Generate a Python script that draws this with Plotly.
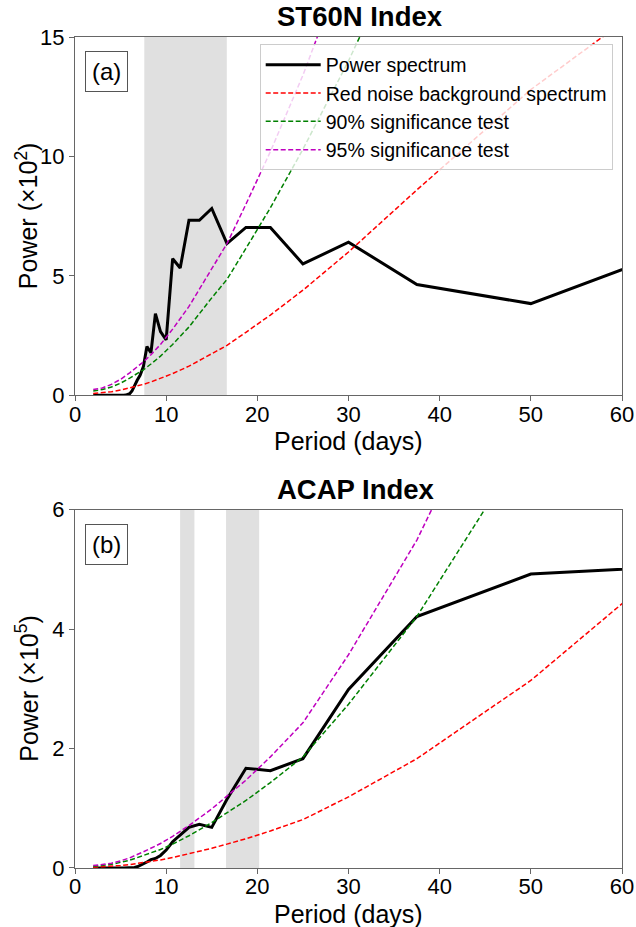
import plotly.graph_objects as go

# Spectral periods (days) of the power spectrum points
periods = [75.0, 50.0, 37.5, 30.0, 25.0, 21.43, 18.75, 16.67, 15.0, 13.64, 12.5,
           11.54, 10.71, 10.0, 9.38, 8.82, 8.33, 7.89, 7.5, 7.14, 6.82, 6.52,
           6.25, 6.0, 5.77, 5.56, 5.36, 5.17, 5.0, 4.5, 4.0, 3.5, 3.0, 2.5, 2.0]

# Power spectrum, ST60N index (x10^2)
st60n_power = [7.4, 3.84, 4.64, 6.41, 5.50, 7.03, 7.03, 6.35, 7.82, 7.33, 7.33,
               5.33, 5.72, 2.32, 2.67, 3.42, 1.78, 2.04, 1.20, 0.84, 0.63, 0.38,
               0.18, 0.07, 0.03, 0.01, 0.0, 0.0, 0.0, 0.0, 0.0, 0.0, 0.0, 0.0, 0.0]

# Power spectrum, ACAP index (x10^5)
acap_power = [5.12, 4.92, 4.21, 2.99, 1.83, 1.63, 1.67, 1.15, 0.68, 0.73, 0.68,
              0.56, 0.44, 0.30, 0.21, 0.16, 0.14, 0.10, 0.07, 0.04, 0.02, 0.01,
              0.005, 0.0, 0.0, 0.0, 0.0, 0.0, 0.0, 0.0, 0.0, 0.0, 0.0, 0.0, 0.0]

# Periods for the red-noise background and significance curves
bg_periods = [2.0, 2.5, 3.0, 4.0, 5.0, 6.0, 7.5, 8.33, 9.38, 10.71, 12.5, 15.0,
              16.67, 18.75, 21.43, 25.0, 30.0, 37.5, 50.0, 75.0]

st60n_red = [0.08, 0.09, 0.10, 0.15, 0.22, 0.31, 0.46, 0.56, 0.70, 0.91, 1.22, 1.74,
             2.09, 2.64, 3.36, 4.40, 6.0, 8.6, 12.8, 19.8]
st60n_sig90 = [0.18, 0.21, 0.24, 0.35, 0.51, 0.72, 1.07, 1.31, 1.64, 2.13, 2.86, 4.08,
               4.85, 6.15, 7.85, 10.3, 14.0, 20.1, 29.9, 47.0]
st60n_sig95 = [0.24, 0.27, 0.31, 0.46, 0.67, 0.94, 1.40, 1.70, 2.13, 2.77, 3.72, 5.30,
               6.35, 8.00, 10.2, 13.4, 18.2, 26.1, 38.9, 61.0]

acap_red = [0.013, 0.016, 0.018, 0.027, 0.041, 0.058, 0.09, 0.11, 0.135, 0.175, 0.235,
            0.33, 0.40, 0.49, 0.62, 0.81, 1.19, 1.83, 3.14, 6.35]
acap_sig90 = [0.03, 0.037, 0.042, 0.062, 0.095, 0.13, 0.21, 0.25, 0.31, 0.40, 0.54,
              0.76, 0.92, 1.13, 1.43, 1.86, 2.74, 4.21, 7.22, 14.6]
acap_sig95 = [0.04, 0.048, 0.055, 0.08, 0.12, 0.17, 0.27, 0.33, 0.41, 0.53, 0.71,
              0.99, 1.20, 1.47, 1.86, 2.43, 3.57, 5.49, 9.42, 19.0]

# Shaded significant period bands (days)
st60n_bands = [(7.6, 16.65)]
acap_bands = [(11.53, 13.1), (16.57, 20.2)]

FONT = "Arial, Liberation Sans, sans-serif"
AXIS_COLOR = "#666666"
DASH = "5px,2.5px"

fig = go.Figure()


def add_panel(xa, ya, power, red, sig90, sig95, show_legend):
    fig.add_trace(go.Scatter(x=periods, y=power, mode="lines", name="Power spectrum",
                             line=dict(color="black", width=3),
                             xaxis=xa, yaxis=ya, showlegend=show_legend))
    fig.add_trace(go.Scatter(x=bg_periods, y=red, mode="lines",
                             name="Red noise background spectrum",
                             line=dict(color="#ff0000", width=1.5, dash=DASH),
                             xaxis=xa, yaxis=ya, showlegend=show_legend))
    fig.add_trace(go.Scatter(x=bg_periods, y=sig90, mode="lines",
                             name="90% significance test",
                             line=dict(color="#008000", width=1.5, dash=DASH),
                             xaxis=xa, yaxis=ya, showlegend=show_legend))
    fig.add_trace(go.Scatter(x=bg_periods, y=sig95, mode="lines",
                             name="95% significance test",
                             line=dict(color="#bf00bf", width=1.5, dash=DASH),
                             xaxis=xa, yaxis=ya, showlegend=show_legend))


add_panel("x", "y", st60n_power, st60n_red, st60n_sig90, st60n_sig95, True)
add_panel("x2", "y2", acap_power, acap_red, acap_sig90, acap_sig95, False)

for x0, x1 in st60n_bands:
    fig.add_shape(type="rect", xref="x", yref="y domain", x0=x0, x1=x1, y0=0, y1=1,
                  fillcolor="#e0e0e0", line_width=0, layer="below")
for x0, x1 in acap_bands:
    fig.add_shape(type="rect", xref="x2", yref="y2 domain", x0=x0, x1=x1, y0=0, y1=1,
                  fillcolor="#e0e0e0", line_width=0, layer="below")

axis_common = dict(showline=True, mirror=True, linecolor=AXIS_COLOR, linewidth=1,
                   ticks="outside", ticklen=5, tickcolor=AXIS_COLOR, showgrid=False,
                   zeroline=False, automargin=False,
                   tickfont=dict(family=FONT, size=22, color="black"))
xtick_shift = dict(ticklabelstandoff=-6)

fig.update_layout(
    width=636, height=927,
    margin=dict(l=75, r=14, t=37, b=59),
    paper_bgcolor="white", plot_bgcolor="white",
    font=dict(family=FONT, color="black"),
    xaxis=dict(domain=[0, 1], range=[0, 60], tickvals=[0, 10, 20, 30, 40, 50, 60],
               anchor="y", **xtick_shift, **axis_common),
    yaxis=dict(domain=[0.5688, 1], range=[0, 15], tickvals=[0, 5, 10, 15],
               anchor="x", **axis_common),
    xaxis2=dict(domain=[0, 1], range=[0, 60], tickvals=[0, 10, 20, 30, 40, 50, 60],
                anchor="y2", **xtick_shift, **axis_common),
    yaxis2=dict(domain=[0, 0.4313], range=[0, 6], tickvals=[0, 2, 4, 6],
                anchor="x2", **axis_common),
    legend=dict(x=0.983, y=0.991, xanchor="right", yanchor="top",
                bgcolor="rgba(255,255,255,0.8)", bordercolor="#cccccc", borderwidth=1,
                font=dict(family=FONT, size=19.5, color="black"),
                itemwidth=55, tracegroupgap=0),
    showlegend=True,
)

# Panel titles, axis titles and panel labels
panels = [("x", "y", "ST60N Index", "Power (×10<sup>2</sup>)", "(a)", 0.521),
          ("x2", "y2", "ACAP Index", "Power (×10<sup>5</sup>)", "(b)", 0.514)]
for xa, ya, title, ytitle, label, title_x in panels:
    fig.add_annotation(text="<b>%s</b>" % title, xref="%s domain" % xa,
                       yref="%s domain" % ya, x=title_x, y=1.0, yshift=3,
                       xanchor="center", yanchor="bottom", showarrow=False,
                       font=dict(family=FONT, size=27.5, color="black"))
    fig.add_annotation(text="Period (days)", xref="%s domain" % xa,
                       yref="%s domain" % ya, x=0.5, y=0.0, yshift=-30,
                       xanchor="center", yanchor="top", showarrow=False,
                       font=dict(family=FONT, size=25, color="black"))
    fig.add_annotation(text=ytitle, xref="%s domain" % xa, yref="%s domain" % ya,
                       x=0.0, y=0.5, xshift=-48, textangle=-90,
                       xanchor="center", yanchor="middle", showarrow=False,
                       font=dict(family=FONT, size=25, color="black"))
    fig.add_annotation(text=label, xref="%s domain" % xa, yref="%s domain" % ya,
                       x=0.0175, y=0.961, xanchor="left", yanchor="top",
                       showarrow=False, bordercolor="#555555", borderwidth=1,
                       borderpad=6, bgcolor="white",
                       font=dict(family=FONT, size=24, color="black"))

fig.write_html("out.html")
